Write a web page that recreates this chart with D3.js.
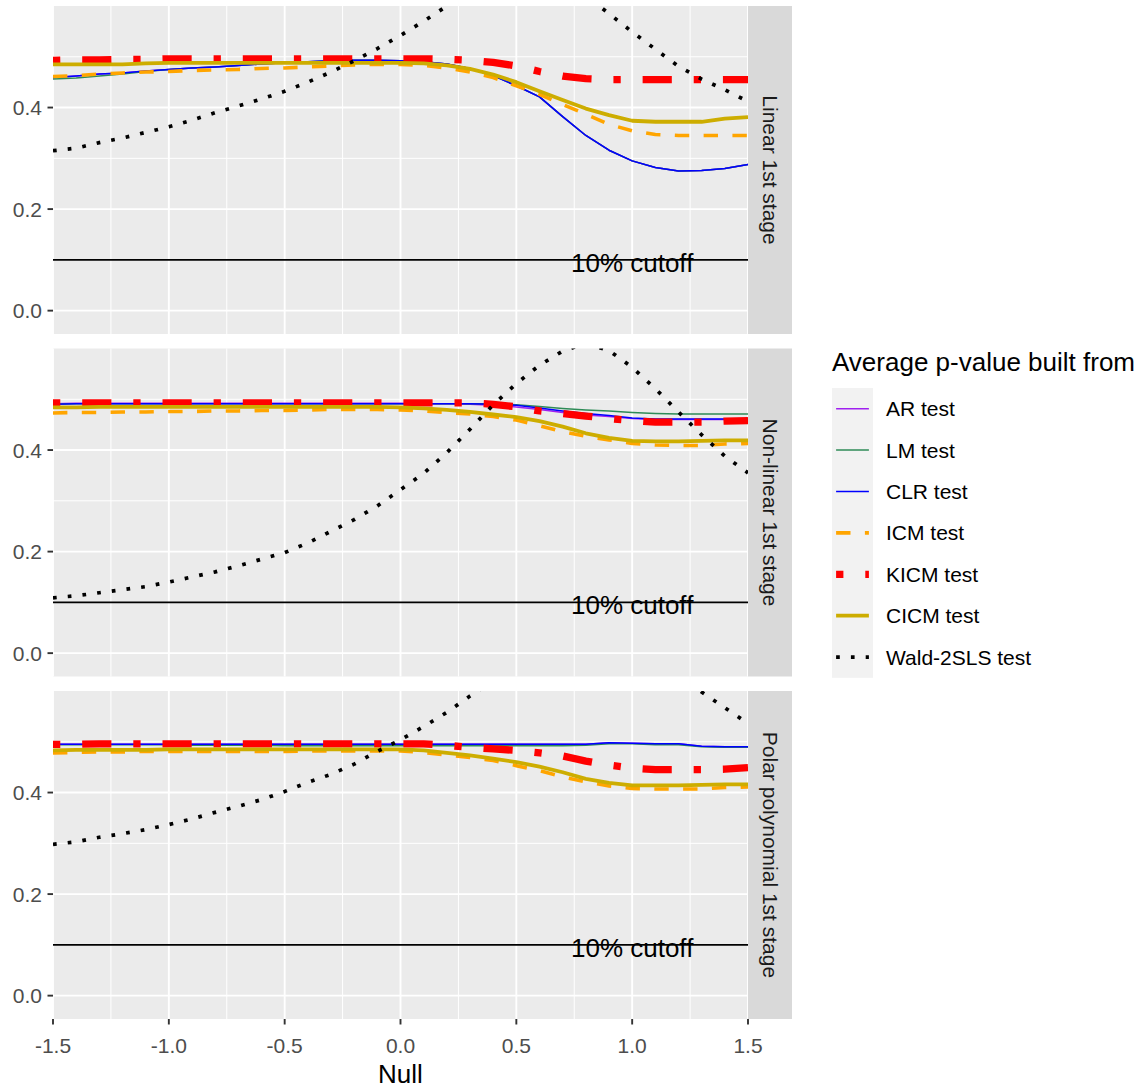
<!DOCTYPE html>
<html lang="en">
<head>
<meta charset="UTF-8">
<title>Average p-value by null</title>
<script src="https://d3js.org/d3.v7.min.js"></script>
<style>
  body { margin: 0; background: #fff; }
  svg text { font-family: "Liberation Sans", Arial, sans-serif; }
</style>
</head>
<body>
<svg id="chart" width="1143" height="1090"></svg>

<script>
// values of the null on the x axis
const nulls = [-1.5, -1.4, -1.3, -1.2, -1.1, -1.0, -0.9, -0.8, -0.7, -0.6, -0.5, -0.4, -0.3, -0.2, -0.1,
               0.0, 0.1, 0.2, 0.3, 0.4, 0.5, 0.6, 0.7, 0.8, 0.9, 1.0, 1.1, 1.2, 1.3, 1.4, 1.5];
const xTicks = [-1.5, -1.0, -0.5, 0.0, 0.5, 1.0, 1.5];
const xMinor = [-1.25, -0.75, -0.25, 0.25, 0.75, 1.25];
const yTicks = [0.0, 0.2, 0.4];
const yMinor = [0.1, 0.3, 0.5];
const panels = ["Linear 1st stage", "Non-linear 1st stage", "Polar polynomial 1st stage"];
const tests = ["AR test", "LM test", "CLR test", "ICM test", "KICM test", "CICM test", "Wald-2SLS test"];
const cutoff = 0.1;

// Linear 1st stage
const arLinear   = [0.459,0.462,0.466,0.468,0.472,0.475,0.478,0.480,0.483,0.486,0.488,0.490,0.492,0.493,0.493,0.492,0.490,0.486,0.477,0.463,0.443,0.421,0.382,0.345,0.316,0.295,0.282,0.275,0.276,0.280,0.288];
const lmLinear   = [0.456,0.458,0.462,0.466,0.471,0.475,0.478,0.480,0.483,0.486,0.488,0.490,0.492,0.493,0.493,0.492,0.490,0.486,0.477,0.463,0.443,0.421,0.382,0.345,0.316,0.295,0.282,0.275,0.276,0.280,0.288];
const clrLinear  = [0.459,0.462,0.466,0.468,0.472,0.475,0.478,0.480,0.483,0.486,0.488,0.490,0.492,0.493,0.493,0.492,0.490,0.486,0.477,0.463,0.443,0.421,0.382,0.345,0.316,0.295,0.282,0.275,0.276,0.280,0.288];
const icmLinear  = [0.461,0.463,0.466,0.468,0.470,0.471,0.473,0.474,0.475,0.477,0.478,0.480,0.482,0.484,0.485,0.485,0.483,0.478,0.470,0.459,0.443,0.426,0.406,0.387,0.367,0.354,0.347,0.345,0.345,0.345,0.345];
const kicmLinear = [0.493,0.494,0.494,0.495,0.495,0.496,0.496,0.496,0.496,0.496,0.496,0.496,0.496,0.496,0.496,0.496,0.496,0.495,0.493,0.489,0.482,0.471,0.462,0.457,0.455,0.455,0.455,0.455,0.455,0.455,0.455];
const cicmLinear = [0.485,0.485,0.485,0.485,0.487,0.488,0.488,0.488,0.488,0.488,0.488,0.488,0.488,0.488,0.488,0.488,0.487,0.483,0.476,0.465,0.450,0.432,0.415,0.398,0.385,0.374,0.372,0.372,0.372,0.378,0.381];
const waldLinear = [0.315,0.320,0.331,0.340,0.351,0.362,0.375,0.390,0.403,0.417,0.432,0.450,0.470,0.492,0.516,0.542,0.570,0.600,0.625,0.642,0.652,0.652,0.642,0.620,0.585,0.549,0.515,0.481,0.456,0.435,0.412];

// Non-linear 1st stage
const arNonlin   = [0.491,0.492,0.492,0.492,0.492,0.492,0.492,0.492,0.492,0.492,0.492,0.492,0.492,0.492,0.492,0.492,0.491,0.491,0.490,0.488,0.485,0.480,0.474,0.469,0.466,0.462,0.460,0.460,0.460,0.460,0.460];
const lmNonlin   = [0.490,0.491,0.491,0.491,0.491,0.491,0.491,0.491,0.491,0.491,0.491,0.491,0.491,0.491,0.491,0.491,0.491,0.491,0.491,0.491,0.489,0.486,0.482,0.479,0.477,0.474,0.472,0.471,0.471,0.471,0.471];
const clrNonlin  = [0.490,0.491,0.491,0.491,0.491,0.491,0.491,0.491,0.491,0.491,0.491,0.491,0.491,0.491,0.491,0.491,0.491,0.491,0.491,0.490,0.488,0.483,0.477,0.472,0.468,0.463,0.461,0.461,0.461,0.461,0.461];
const icmNonlin  = [0.473,0.474,0.474,0.475,0.475,0.476,0.476,0.477,0.477,0.478,0.478,0.479,0.480,0.480,0.480,0.479,0.477,0.474,0.471,0.466,0.459,0.448,0.436,0.427,0.420,0.413,0.410,0.409,0.409,0.412,0.413];
const kicmNonlin = [0.493,0.493,0.493,0.493,0.493,0.493,0.493,0.493,0.493,0.493,0.493,0.493,0.493,0.493,0.493,0.493,0.493,0.493,0.493,0.490,0.485,0.477,0.472,0.467,0.462,0.458,0.455,0.455,0.455,0.457,0.458];
const cicmNonlin = [0.484,0.484,0.485,0.485,0.485,0.485,0.485,0.485,0.485,0.485,0.485,0.485,0.485,0.485,0.485,0.484,0.482,0.479,0.475,0.470,0.465,0.457,0.446,0.433,0.424,0.418,0.417,0.417,0.418,0.419,0.419];
const waldNonlin = [0.109,0.113,0.119,0.125,0.131,0.140,0.150,0.160,0.172,0.185,0.198,0.217,0.240,0.263,0.290,0.322,0.354,0.395,0.441,0.489,0.531,0.567,0.595,0.610,0.596,0.563,0.521,0.475,0.430,0.388,0.355];

// Polar polynomial 1st stage
const arPolar    = [0.495,0.495,0.495,0.495,0.495,0.495,0.495,0.495,0.495,0.495,0.495,0.495,0.495,0.495,0.495,0.495,0.495,0.495,0.495,0.495,0.495,0.495,0.495,0.495,0.498,0.497,0.496,0.496,0.491,0.490,0.490];
const lmPolar    = [0.494,0.494,0.494,0.494,0.494,0.494,0.493,0.493,0.493,0.493,0.492,0.492,0.492,0.492,0.492,0.492,0.492,0.492,0.492,0.492,0.492,0.492,0.492,0.493,0.496,0.496,0.494,0.494,0.490,0.489,0.489];
const clrPolar   = [0.495,0.495,0.495,0.495,0.495,0.495,0.495,0.495,0.495,0.495,0.495,0.495,0.495,0.495,0.495,0.495,0.495,0.495,0.495,0.495,0.495,0.495,0.495,0.495,0.498,0.497,0.496,0.496,0.491,0.490,0.490];
const icmPolar   = [0.478,0.479,0.480,0.480,0.481,0.481,0.481,0.481,0.481,0.481,0.481,0.482,0.482,0.482,0.482,0.482,0.479,0.474,0.469,0.463,0.453,0.443,0.431,0.421,0.413,0.408,0.407,0.407,0.407,0.410,0.411];
const kicmPolar  = [0.495,0.495,0.496,0.496,0.496,0.496,0.496,0.496,0.496,0.496,0.496,0.496,0.496,0.496,0.496,0.496,0.496,0.493,0.489,0.486,0.483,0.478,0.472,0.462,0.454,0.448,0.445,0.445,0.445,0.446,0.449];
const cicmPolar  = [0.483,0.484,0.484,0.484,0.484,0.485,0.485,0.485,0.485,0.485,0.485,0.485,0.485,0.485,0.485,0.485,0.483,0.478,0.473,0.467,0.460,0.451,0.440,0.427,0.419,0.414,0.414,0.414,0.415,0.416,0.416];
const waldPolar  = [0.298,0.303,0.312,0.319,0.327,0.337,0.348,0.361,0.373,0.386,0.402,0.420,0.436,0.456,0.481,0.504,0.530,0.558,0.590,0.620,0.648,0.672,0.690,0.702,0.705,0.698,0.680,0.640,0.598,0.567,0.536];

// one row per facet, columns follow the order of tests
const seriesByPanel = [
    [arLinear, lmLinear, clrLinear, icmLinear, kicmLinear, cicmLinear, waldLinear],
    [arNonlin, lmNonlin, clrNonlin, icmNonlin, kicmNonlin, cicmNonlin, waldNonlin],
    [arPolar, lmPolar, clrPolar, icmPolar, kicmPolar, cicmPolar, waldPolar]
];

// line look for each test (ggplot style: colour, size, linetype)
const lineStyle = {
    "AR test":        { color: "#A020F0", width: 1.5, dash: null },
    "LM test":        { color: "#2E8B57", width: 1.5, dash: null },
    "CLR test":       { color: "#0000FF", width: 1.5, dash: null },
    "ICM test":       { color: "#FFA500", width: 3.6, dash: "14.4,14.4" },
    "KICM test":      { color: "#FF0000", width: 7.3, dash: "7.3,21.9,29.2,21.9" },
    "CICM test":      { color: "#CDAD00", width: 3.8, dash: null },
    "Wald-2SLS test": { color: "#000000", width: 3.7, dash: "3.7,11.1" }
};

const svg = d3.select("#chart");
svg.append("rect").attr("width", 1143).attr("height", 1090).attr("fill", "#fff");

const left = 53, right = 748, stripW = 44;
const panelH = 328;
const panelTops = [6, 348.5, 691];

const x = d3.scaleLinear().domain([-1.5, 1.5]).range([left, right]);

panels.forEach(function (name, i) {
    const top = panelTops[i];
    const y = d3.scaleLinear().domain([-0.046, 0.6]).range([top + panelH, top]);
    const g = svg.append("g");

    // panel background and grid
    g.append("rect").attr("x", left).attr("y", top)
        .attr("width", right - left).attr("height", panelH).attr("fill", "#EBEBEB");

    g.selectAll(".xminor").data(xMinor).enter().append("line")
        .attr("x1", d => x(d)).attr("x2", d => x(d))
        .attr("y1", top).attr("y2", top + panelH)
        .attr("stroke", "#fff").attr("stroke-width", 1);
    g.selectAll(".yminor").data(yMinor).enter().append("line")
        .attr("x1", left).attr("x2", right)
        .attr("y1", d => y(d)).attr("y2", d => y(d))
        .attr("stroke", "#fff").attr("stroke-width", 1);
    g.selectAll(".xmajor").data(xTicks).enter().append("line")
        .attr("x1", d => x(d)).attr("x2", d => x(d))
        .attr("y1", top).attr("y2", top + panelH)
        .attr("stroke", "#fff").attr("stroke-width", 1.9);
    g.selectAll(".ymajor").data(yTicks).enter().append("line")
        .attr("x1", left).attr("x2", right)
        .attr("y1", d => y(d)).attr("y2", d => y(d))
        .attr("stroke", "#fff").attr("stroke-width", 1.9);

    // clip the lines to the panel
    const clipId = "clip" + i;
    svg.append("clipPath").attr("id", clipId)
        .append("rect").attr("x", left).attr("y", top)
        .attr("width", right - left).attr("height", panelH);

    const marks = g.append("g").attr("clip-path", "url(#" + clipId + ")");

    // 10% cutoff line
    marks.append("line")
        .attr("x1", left).attr("x2", right)
        .attr("y1", y(cutoff)).attr("y2", y(cutoff))
        .attr("stroke", "#000").attr("stroke-width", 1.6);

    const line = d3.line()
        .x((d, k) => x(nulls[k]))
        .y(d => y(d));

    tests.forEach(function (t, j) {
        const s = lineStyle[t];
        marks.append("path")
            .datum(seriesByPanel[i][j])
            .attr("d", line)
            .attr("fill", "none")
            .attr("stroke", s.color)
            .attr("stroke-width", s.width)
            .attr("stroke-dasharray", s.dash)
            .attr("stroke-linecap", "butt")
            .attr("stroke-linejoin", "round");
    });

    marks.append("text")
        .attr("x", x(1.0)).attr("y", y(cutoff))
        .attr("dy", "0.45em")
        .attr("text-anchor", "middle")
        .attr("font-size", 26)
        .attr("fill", "#000")
        .text("10% cutoff");

    // y axis ticks and labels
    const yAxis = g.append("g");
    yAxis.selectAll("line").data(yTicks).enter().append("line")
        .attr("x1", left - 5.5).attr("x2", left)
        .attr("y1", d => y(d)).attr("y2", d => y(d))
        .attr("stroke", "#333").attr("stroke-width", 1.9);
    yAxis.selectAll("text").data(yTicks).enter().append("text")
        .attr("x", left - 11).attr("y", d => y(d))
        .attr("dy", "0.36em")
        .attr("text-anchor", "end")
        .attr("font-size", 21)
        .attr("fill", "#4D4D4D")
        .text(d => d.toFixed(1));

    // facet strip on the right
    g.append("rect").attr("x", right).attr("y", top)
        .attr("width", stripW).attr("height", panelH).attr("fill", "#D9D9D9");
    g.append("text")
        .attr("transform", "translate(" + (right + stripW / 2) + "," + (top + panelH / 2) + ") rotate(90)")
        .attr("dy", "0.35em")
        .attr("text-anchor", "middle")
        .attr("font-size", 21)
        .attr("fill", "#1A1A1A")
        .text(name);

    // x axis only under the last panel
    if (i === panels.length - 1) {
        const bottom = top + panelH;
        const xAxis = g.append("g");
        xAxis.selectAll("line").data(xTicks).enter().append("line")
            .attr("x1", d => x(d)).attr("x2", d => x(d))
            .attr("y1", bottom).attr("y2", bottom + 5.5)
            .attr("stroke", "#333").attr("stroke-width", 1.9);
        xAxis.selectAll("text").data(xTicks).enter().append("text")
            .attr("x", d => x(d)).attr("y", bottom + 34)
            .attr("text-anchor", "middle")
            .attr("font-size", 21)
            .attr("fill", "#4D4D4D")
            .text(d => d.toFixed(1));
        svg.append("text")
            .attr("x", (left + right) / 2).attr("y", bottom + 64)
            .attr("text-anchor", "middle")
            .attr("font-size", 26)
            .attr("fill", "#000")
            .text("Null");
    }
});

// legend
const legendX = 832, legendTop = 388, keyH = 41.4, keyW = 41;
const legend = svg.append("g");
legend.append("text")
    .attr("x", legendX).attr("y", 371)
    .attr("font-size", 26)
    .attr("fill", "#000")
    .text("Average p-value built from");

legend.append("rect")
    .attr("x", legendX).attr("y", legendTop)
    .attr("width", keyW).attr("height", keyH * tests.length)
    .attr("fill", "#F2F2F2");

tests.forEach(function (t, j) {
    const s = lineStyle[t];
    const cy = legendTop + keyH * (j + 0.5);
    legend.append("line")
        .attr("x1", legendX + keyW * 0.1).attr("x2", legendX + keyW * 0.9)
        .attr("y1", cy).attr("y2", cy)
        .attr("stroke", s.color)
        .attr("stroke-width", s.width)
        .attr("stroke-dasharray", s.dash)
        .attr("stroke-linecap", "butt");
    legend.append("text")
        .attr("x", legendX + keyW + 13).attr("y", cy)
        .attr("dy", "0.36em")
        .attr("font-size", 21)
        .attr("fill", "#000")
        .text(t);
});
</script>
</body>
</html>
